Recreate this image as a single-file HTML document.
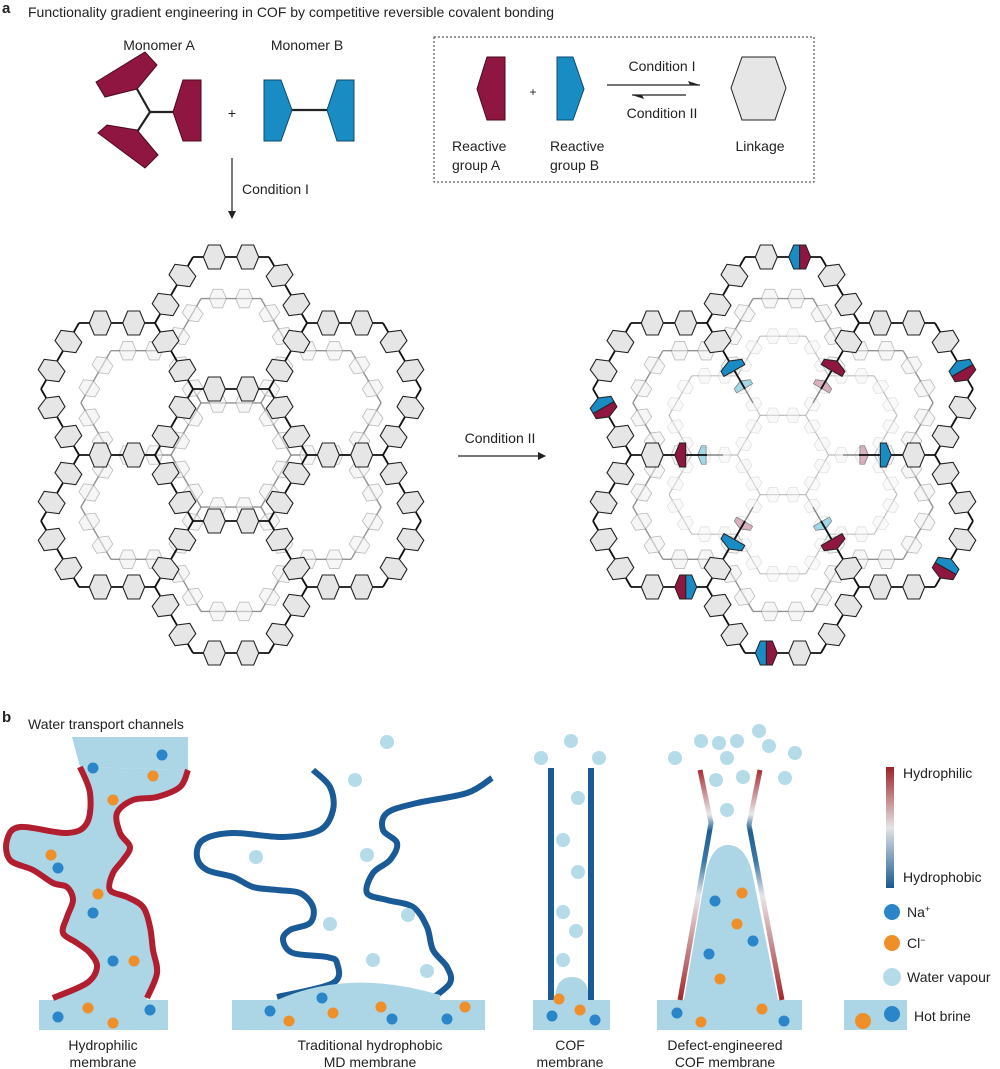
<!DOCTYPE html>
<html><head><meta charset="utf-8"><style>
html,body{margin:0;padding:0;background:#fff}
svg{display:block}
text{font-family:"Liberation Sans",Arial,sans-serif;fill:#222;font-size:14px}
</style></head><body>
<svg id="s" width="1000" height="1069" viewBox="0 0 1000 1069" xmlns="http://www.w3.org/2000/svg">
<defs>
<marker id="ah" markerWidth="8" markerHeight="8" refX="7" refY="4" orient="auto" markerUnits="userSpaceOnUse"><path d="M0,0 L8,4 L0,8 Z" fill="#222"/></marker>
<linearGradient id="gl" gradientUnits="userSpaceOnUse" x1="0" y1="768" x2="0" y2="1000">
<stop offset="0" stop-color="#a5282c"/><stop offset="0.2" stop-color="#e8e8ea"/><stop offset="0.27" stop-color="#1f5f92"/><stop offset="0.4" stop-color="#3a77a5"/><stop offset="0.55" stop-color="#e6e6e8"/><stop offset="1" stop-color="#a5282c"/>
</linearGradient>
<linearGradient id="leg" x1="0" y1="0" x2="0" y2="1">
<stop offset="0" stop-color="#9e2226"/><stop offset="0.5" stop-color="#e4e4e6"/><stop offset="1" stop-color="#1a5a90"/>
</linearGradient>
</defs>

<text x="2" y="13" style="font-weight:bold;font-size:15px">a</text>
<text x="28" y="17">Functionality gradient engineering in COF by competitive reversible covalent bonding</text>
<text x="159" y="50" text-anchor="middle">Monomer A</text>
<text x="307" y="50" text-anchor="middle">Monomer B</text>

<g stroke="#222" stroke-width="2.2" fill="none">
<line x1="150" y1="112" x2="173" y2="112"/><line x1="150" y1="112" x2="137" y2="89"/><line x1="150" y1="112" x2="137" y2="132"/>
<line x1="292" y1="110" x2="327" y2="110"/>
</g>
<g fill="#8e1640" stroke="#4a0a20" stroke-width="1">
<polygon points="173,112 183,80 201,80 201,141 183,141"/>
<polygon points="96,82 145,52 157,65 137,89 105,97"/>
<polygon points="98,133 107,125 137,130 158,155 145,168"/>
</g>
<g fill="#1a8cc4" stroke="#0d4a6b" stroke-width="1">
<polygon points="264,80 281,80 292,110 281,141 264,141"/>
<polygon points="354,80 337,80 327,110 337,141 354,141"/>
</g>
<text x="232" y="118" text-anchor="middle">+</text>
<line x1="232" y1="158" x2="232" y2="218" stroke="#222" stroke-width="1.2" marker-end="url(#ah)"/>
<text x="242" y="194">Condition I</text>

<rect x="434" y="37" width="380" height="145" fill="none" stroke="#333" stroke-width="1" stroke-dasharray="2,2"/>
<polygon points="487,57 505,57 505,120 487,120 477,89" fill="#8e1640" stroke="#4a0a20"/>
<polygon points="557,57 573,57 584,89 573,120 557,120" fill="#1a8cc4" stroke="#0d4a6b"/>
<text x="533" y="96" text-anchor="middle" style="font-size:12px">+</text>
<line x1="607" y1="85" x2="700" y2="85" stroke="#222" stroke-width="1.2"/>
<path d="M700,85 L688,81 L690,85 Z" fill="#222"/>
<line x1="632" y1="95" x2="686" y2="95" stroke="#222" stroke-width="1.2"/>
<path d="M632,95 L644,99 L642,95 Z" fill="#222"/>
<text x="662" y="71" text-anchor="middle">Condition I</text>
<text x="662" y="118" text-anchor="middle">Condition II</text>
<polygon points="742,57 775,57 786,88 775,120 742,120 731,88" fill="#e6e6e6" stroke="#222" stroke-width="1"/>
<text x="452" y="151">Reactive</text><text x="452" y="170">group A</text>
<text x="550" y="151">Reactive</text><text x="550" y="170">group B</text>
<text x="760" y="151" text-anchor="middle">Linkage</text>

<text x="500" y="443" text-anchor="middle">Condition II</text>
<line x1="458" y1="456" x2="545" y2="456" stroke="#222" stroke-width="1.2" marker-end="url(#ah)"/>

<g id="net"></g>

<text x="2" y="722" style="font-weight:bold;font-size:15px">b</text>
<text x="28" y="729">Water transport channels</text>

<g id="curves"></g>

<rect x="232" y="1000" width="253" height="30" fill="#acd5e6"/>
<path d="M277,1000 Q350,968 440,995 L440,1000 Z" fill="#acd5e6"/>

<rect x="533" y="1000" width="77" height="30" fill="#acd5e6"/>
<path d="M555,1000 Q555,977 572,977 Q589,977 589,1000 Z" fill="#acd5e6"/>
<line x1="551" y1="768" x2="551" y2="1000" stroke="#1a5a96" stroke-width="6"/>
<line x1="591" y1="768" x2="591" y2="1000" stroke="#1a5a96" stroke-width="6"/>

<rect x="657" y="1000" width="145" height="30" fill="#acd5e6"/>
<path d="M684,1000 L706,872 Q712,845 728,845 Q745,845 752,872 L778,1000 Z" fill="#acd5e6"/>
<polyline points="700,770 711,823 680,1000" fill="none" stroke="url(#gl)" stroke-width="5"/>
<polyline points="760,770 749,825 782,1000" fill="none" stroke="url(#gl)" stroke-width="5"/>

<rect x="886" y="767" width="8" height="121" fill="url(#leg)"/>
<text x="903" y="778">Hydrophilic</text>
<text x="903" y="882">Hydrophobic</text>
<rect x="844" y="1000" width="63" height="30" fill="#acd5e6"/>
<text x="907" y="917">Na<tspan dy="-5" style="font-size:9px">+</tspan></text>
<text x="907" y="948">Cl<tspan dy="-5" style="font-size:9px">−</tspan></text>
<text x="907" y="982">Water vapour</text>
<text x="914" y="1021">Hot brine</text>

<g id="dots"></g>

<g text-anchor="middle">
<text x="103" y="1050">Hydrophilic</text><text x="103" y="1067">membrane</text>
<text x="370" y="1050">Traditional hydrophobic</text><text x="370" y="1067">MD membrane</text>
<text x="570" y="1050">COF</text><text x="570" y="1067">membrane</text>
<text x="725" y="1050">Defect-engineered</text><text x="725" y="1067">COF membrane</text>
</g>
</svg>
<script>
(function(){
var out='';
var MA='#8e1640',MB='#1a8cc4';
function linkerPts(half){
 if(half==='L')return '-11,0 -6,-12 0,-12 0,12 -6,12';
 if(half==='R')return '0,-12 6,-12 11,0 6,12 0,12';
 return '-11,0 -6,-12 6,-12 11,0 6,12 -6,12';
}
function linker(x,y,ang,sc,fill,stroke,op,mode,c1,c2){
 var t='transform="translate('+x.toFixed(1)+','+y.toFixed(1)+') rotate('+ang.toFixed(1)+') scale('+sc+')"';
 if(mode==='split')
  return '<g '+t+' opacity="'+op+'"><polygon points="'+linkerPts('L')+'" fill="'+c1+'" stroke="#222" stroke-width="1"/><polygon points="'+linkerPts('R')+'" fill="'+c2+'" stroke="#222" stroke-width="1"/></g>';
 if(mode==='half')
  return '<g '+t+' opacity="'+op+'"><polygon points="'+linkerPts('L')+'" fill="'+c1+'" stroke="#222" stroke-width="1"/></g>';
 return '<polygon '+t+' points="'+linkerPts()+'" fill="'+fill+'" stroke="'+stroke+'" stroke-width="1.1" opacity="'+op+'"/>';
}
function getEdges(cx,cy,R,h){
 var cs=[[0,0],[0,-2*h],[0,2*h],[1.5*R,-h],[1.5*R,h],[-1.5*R,-h],[-1.5*R,h]];
 var map={},list=[],cv=[];
 cs.forEach(function(c,i){
  var x=cx+c[0],y=cy+c[1];
  var v=[[x+R,y],[x+R/2,y+h],[x-R/2,y+h],[x-R,y],[x-R/2,y-h],[x+R/2,y-h]];
  if(i===0)cv=v;
  for(var k=0;k<6;k++){
   var a=v[k],b=v[(k+1)%6];
   var k1=Math.round(a[0])+','+Math.round(a[1]),k2=Math.round(b[0])+','+Math.round(b[1]);
   var key=k1<k2?k1+'|'+k2:k2+'|'+k1;
   if(map[key]){ if(i===0)map[key].central=true; continue;}
   var e={a:a,b:b,central:i===0};
   map[key]=e;list.push(e);
  }
 });
 list.forEach(function(e){
  if(e.central)return;
  cv.forEach(function(p){
   if(Math.abs(p[0]-e.a[0])<1&&Math.abs(p[1]-e.a[1])<1){e.radial=true;e.inner=e.a;e.outer=e.b;}
   if(Math.abs(p[0]-e.b[0])<1&&Math.abs(p[1]-e.b[1])<1){e.radial=true;e.inner=e.b;e.outer=e.a;}
  });
 });
 return list;
}
function drawLayer(cx,cy,sc,opts){
 var R=76*sc,h=66*sc;
 var E=getEdges(cx,cy,R,h);
 var s='';var ri=0;
 E.forEach(function(e){
  if(opts.skipCentral&&e.central)return;
  var a=e.a,b=e.b;
  if(e.radial){a=e.outer;b=e.inner;}
  s+='<line x1="'+a[0].toFixed(1)+'" y1="'+a[1].toFixed(1)+'" x2="'+b[0].toFixed(1)+'" y2="'+b[1].toFixed(1)+'" stroke="'+opts.line+'" stroke-width="'+opts.lw+'" opacity="'+opts.op+'"/>';
 });
 E.forEach(function(e){
  if(opts.skipCentral&&e.central)return;
  var a=e.a,b=e.b;
  if(e.radial){a=e.outer;b=e.inner;}
  var ang=Math.atan2(b[1]-a[1],b[0]-a[0])*180/Math.PI;
  [0.28,0.72].forEach(function(t,j){
   var x=a[0]+(b[0]-a[0])*t,y=a[1]+(b[1]-a[1])*t;
   var mode=null,c1,c2;
   if(opts.splits){
    opts.splits.forEach(function(p){ if(Math.hypot(p[0]-x,p[1]-y)<14){mode='split';c1=p[2];c2=p[3];} });
   }
   if(opts.radialHalf&&e.radial&&j===1){mode='half';c1=opts.radialHalf[ri%opts.radialHalf.length];ri++;}
   s+=linker(x,y,ang,sc<1?0.85*sc+0.1:1,opts.fill,opts.stroke,opts.lop,mode,c1,c2);
  });
 });
 return s;
}
out+=drawLayer(231,455,0.79,{line:'#777',lw:1.4,op:0.8,fill:'#efefef',stroke:'#888',lop:0.55});
out+=drawLayer(231,455,1,{line:'#111',lw:1.8,op:1,fill:'#e6e6e6',stroke:'#222',lop:1});
out+=drawLayer(783,455,0.6,{line:'#999',lw:1.2,op:0.6,fill:'#f2f2f2',stroke:'#aaa',lop:0.4});
out+=drawLayer(783,455,0.79,{line:'#777',lw:1.4,op:0.8,fill:'#efefef',stroke:'#888',lop:0.55,skipCentral:true,radialHalf:['#c07890','#5bbfdc']});
out+=drawLayer(783,455,1,{line:'#111',lw:1.8,op:1,fill:'#e6e6e6',stroke:'#222',lop:1,skipCentral:true,
 radialHalf:[MA,MB,MB,MA,MB,MA],
 splits:[[802,259,MB,MA],[597,407,MA,MB],[963,366,MB,MA],[952,565,MB,MA],[688,590,MB,MA],[763,659,MA,MB]]});
document.getElementById('net').innerHTML=out;

function cr(p){
 var s='M'+p[0][0]+','+p[0][1];
 for(var i=0;i<p.length-1;i++){
  var p0=p[i-1]||p[i],p1=p[i],p2=p[i+1],p3=p[i+2]||p2;
  var c1=[p1[0]+(p2[0]-p0[0])/6,p1[1]+(p2[1]-p0[1])/6],c2=[p2[0]-(p3[0]-p1[0])/6,p2[1]-(p3[1]-p1[1])/6];
  s+=' C'+c1[0].toFixed(1)+','+c1[1].toFixed(1)+' '+c2[0].toFixed(1)+','+c2[1].toFixed(1)+' '+p2[0]+','+p2[1];
 }
 return s;
}
var L=[[80,767],[90,793],[87,823],[67,833],[20,827],[7,840],[10,860],[33,870],[53,883],[67,887],[73,900],[67,917],[63,933],[77,943],[90,953],[97,967],[87,983],[53,998]];
var Rr=[[188,770],[180,787],[157,797],[133,800],[117,813],[120,833],[130,847],[123,860],[113,873],[110,890],[127,897],[143,907],[150,927],[153,950],[157,973],[147,998]];
var Lrev=L.slice().reverse();
var fill=cr(Rr)+' L147,1000 L55,1000 '+cr(Lrev).replace(/^M/,'L');
var g='<path d="M72,737 L188,737 L188,770 L80,767 Z" fill="#acd5e6"/>';
g+='<path d="'+fill+' Z" fill="#acd5e6"/>';
g+='<rect x="39" y="1000" width="129" height="30" fill="#acd5e6"/>';
g+='<path d="'+cr(L)+'" fill="none" stroke="#b01e2f" stroke-width="6"/>';
g+='<path d="'+cr(Rr)+'" fill="none" stroke="#b01e2f" stroke-width="6"/>';
var B1=[[313,770],[330,787],[333,810],[320,830],[283,837],[233,833],[203,840],[197,857],[207,870],[233,877],[253,887],[277,890],[300,893],[313,907],[310,923],[290,930],[283,940],[293,953],[327,957],[337,963],[333,983],[277,997]];
var B2=[[492,778],[467,793],[417,803],[387,813],[383,830],[397,843],[390,860],[373,873],[367,893],[387,900],[413,907],[427,927],[433,950],[447,967],[450,983],[430,1000]];
g+='<path d="'+cr(B1)+'" fill="none" stroke="#1a5a96" stroke-width="6"/>';
g+='<path d="'+cr(B2)+'" fill="none" stroke="#1a5a96" stroke-width="6"/>';
document.getElementById('curves').innerHTML=g;

var d='';
function c(x,y,r,f){d+='<circle cx="'+x+'" cy="'+y+'" r="'+r+'" fill="'+f+'"/>';}
var NA='#2a86c8',CL='#ee8f2a',VA='#b5dbe9';
[[93,768],[162,755],[58,868],[93,913],[113,961],[58,1017],[150,1010]].forEach(function(p){c(p[0],p[1],5.5,NA)});
[[153,776],[113,800],[51,855],[98,894],[134,961],[88,1008],[113,1023]].forEach(function(p){c(p[0],p[1],5.5,CL)});
[[387,742],[355,780],[256,857],[367,855],[330,924],[373,960],[408,915],[427,971]].forEach(function(p){c(p[0],p[1],7,VA)});
[[270,1011],[322,998],[392,1019],[447,1019]].forEach(function(p){c(p[0],p[1],5.5,NA)});
[[289,1021],[333,1013],[381,1007],[465,1007]].forEach(function(p){c(p[0],p[1],5.5,CL)});
[[541,758],[571,741],[599,758],[578,798],[563,840],[578,872],[563,912],[576,931],[563,960]].forEach(function(p){c(p[0],p[1],7,VA)});
[[559,999],[580,1010]].forEach(function(p){c(p[0],p[1],5.5,CL)});
[[552,1016],[595,1020]].forEach(function(p){c(p[0],p[1],5.5,NA)});
[[675,758],[701,741],[719,743],[737,741],[759,731],[769,746],[795,753],[727,758],[716,780],[743,777],[785,778],[727,810]].forEach(function(p){c(p[0],p[1],7,VA)});
[[715,901],[753,941],[709,954],[677,1013],[784,1021]].forEach(function(p){c(p[0],p[1],5.5,NA)});
[[742,893],[737,924],[720,979],[762,1009],[701,1022]].forEach(function(p){c(p[0],p[1],5.5,CL)});
c(892,912,8,NA);c(892,943,8,CL);c(892,977,9,VA);c(863,1021,8,CL);c(892,1014,8,NA);
document.getElementById('dots').innerHTML=d;
})();
</script>
</body></html>
